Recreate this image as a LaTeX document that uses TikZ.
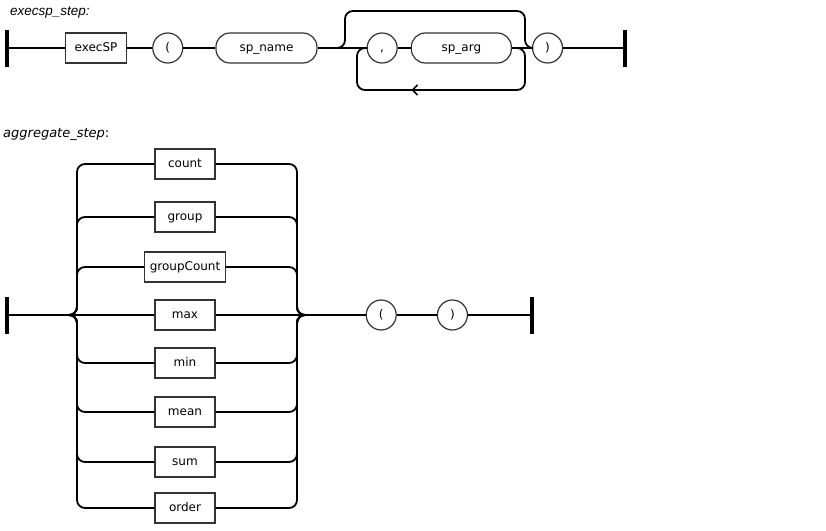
\documentclass[tikz,border=0pt]{standalone}
\usepackage{fontspec}
\usetikzlibrary{arrows.meta,positioning,decorations.markings}
\newfontfamily\railfont{DejaVu Sans}
\newfontfamily\labelfont{Liberation Sans}

\begin{document}
\begin{tikzpicture}[x=1pt,y=-1pt,
    kw/.style={draw=black!80,line width=1.2pt,minimum height=30pt,inner xsep=5pt,inner ysep=0pt,
               text height=9pt,text depth=2.5pt,font=\railfont\fontsize{12}{14}\selectfont},
    pill/.style={kw,rounded corners=14pt},
    tok/.style={kw,circle,inner sep=0pt,minimum size=30pt},
    bar/.style={fill=black,inner sep=0pt,minimum width=3.5pt,minimum height=37pt},
    rail/.style={line width=1.8pt,rounded corners=8pt},
    back/.style={rail,postaction={decorate},
                 decoration={markings,mark=at position 0.62 with {\arrow{Straight Barb[length=5pt,width=10pt,line width=1.5pt]}}}}
  ]
    \useasboundingbox (0,0) rectangle (826,530);

    % execsp_step
    \node[anchor=base west,inner sep=0pt,font=\labelfont\itshape\fontsize{13.5}{16}\selectfont] (t1) at (10,15) {execsp\_step:};
    \node[bar] (s1) at (7,48) {};
    \node[kw,minimum width=61pt,right=56pt of s1] (execsp) {execSP};
    \node[tok,right=25pt of execsp] (lp1) {(};
    \node[pill,minimum width=101pt,right=32pt of lp1] (spname) {sp\_name};
    \node[tok,right=49pt of spname] (comma) {,};
    \node[pill,minimum width=100pt,right=13pt of comma] (sparg) {sp\_arg};
    \node[tok,right=20pt of sparg] (rp1) {)};
    \node[bar,right=60pt of rp1] (e1) {};
    \coordinate (skipin) at (336,48);
    \coordinate (skipout) at (525,48);
    \draw[rail] (s1) -- (execsp) -- (lp1) -- (spname) -- (comma) -- (sparg) -- (rp1) -- (e1);
    \draw[rail] (skipin) -| (345,11) -| (skipout) -- (rp1);
    \draw[back] (sparg.east) -| (525,90) -| (357,48) -- (comma);

    % aggregate_step
    \node[anchor=base west,inner sep=0pt,font=\railfont\fontsize{13}{15}\selectfont] (t2) at (3,137) {\textit{aggregate\_step}:};
    \node[bar] (s2) at (7,315) {};
    \foreach \n/\y in {count/164,group/217,groupCount/267,max/315,min/363,mean/412,sum/462,order/508}
      \node[kw,minimum width=60pt] (\n) at (185,\y) {\n};
    \node[tok,right=150pt of max] (lp2) {(};
    \node[tok,right=40pt of lp2] (rp2) {)};
    \node[bar,right=62pt of rp2] (e2) {};
    \coordinate (split) at (65,315);
    \coordinate (joinx) at (297,315);
    \coordinate (join) at (305,315);
    \draw[rail] (s2) -- (max) -- (lp2) -- (rp2) -- (e2);
    \foreach \n in {count,group,groupCount,min,mean,sum,order} {
      \draw[rail] (split) -- ++(12,0) |- (\n.west);
      \draw[rail] (\n.east) -| (joinx) -- (join);
    }
  \end{tikzpicture}
\end{document}
